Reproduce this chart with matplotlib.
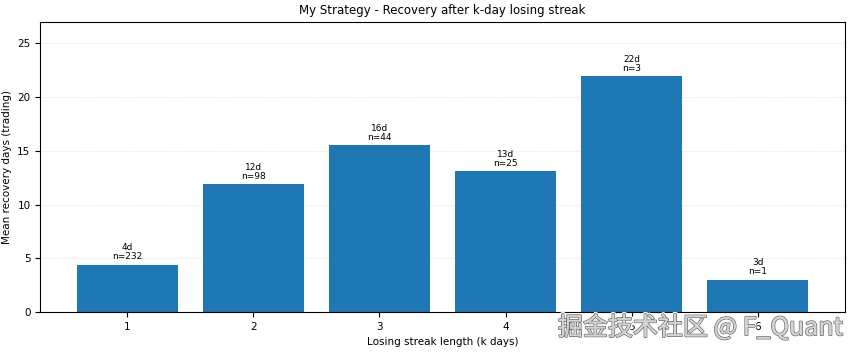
import matplotlib
matplotlib.use("Agg")
import matplotlib.pyplot as plt
import matplotlib.patheffects as pe

plt.rcParams['font.family'] = ['DejaVu Sans', 'Noto Sans CJK SC']

# data
streak_len = [1, 2, 3, 4, 5, 6]
mean_days = [4.4, 11.9, 15.55, 13.1, 21.95, 3.0]
counts = [232, 98, 44, 25, 3, 1]

fig, ax = plt.subplots(figsize=(8.56, 3.52), dpi=100)
bars = ax.bar(streak_len, mean_days, width=0.8, color='#1f77b4', zorder=2)

for b, v, n in zip(bars, mean_days, counts):
    ax.annotate(f"{round(v)}d\nn={n}", (b.get_x() + b.get_width() / 2, v),
                xytext=(0, 2.5), textcoords='offset points',
                ha='center', va='bottom', fontsize=6.5, linespacing=1.0)

ax.set_ylim(0, 27)
ax.set_xticks(streak_len)
ax.tick_params(labelsize=7.5)
ax.grid(axis='y', linestyle='--', linewidth=0.5, alpha=0.3, zorder=0)
ax.set_title("My Strategy - Recovery after k-day losing streak", fontsize=8.5)
ax.set_xlabel("Losing streak length (k days)", fontsize=7.5)
ax.set_ylabel("Mean recovery days (trading)", fontsize=7.5)

fig.subplots_adjust(left=0.047, right=0.987, top=0.9375, bottom=0.1136)

# watermark (sits over the last tick labels, as in the source image)
fig.text(0.985, 0.048, "掘金技术社区 @ F_Quant", ha='right', va='baseline',
         fontsize=18, color='#d4d4d4', family=['Noto Sans CJK SC', 'DejaVu Sans'],
         zorder=10,
         path_effects=[pe.withStroke(linewidth=3, foreground='white'),
                       pe.withStroke(linewidth=1.2, foreground='#6a6a6a'),
                       pe.Normal()])

fig.savefig("out.png", dpi=100)
